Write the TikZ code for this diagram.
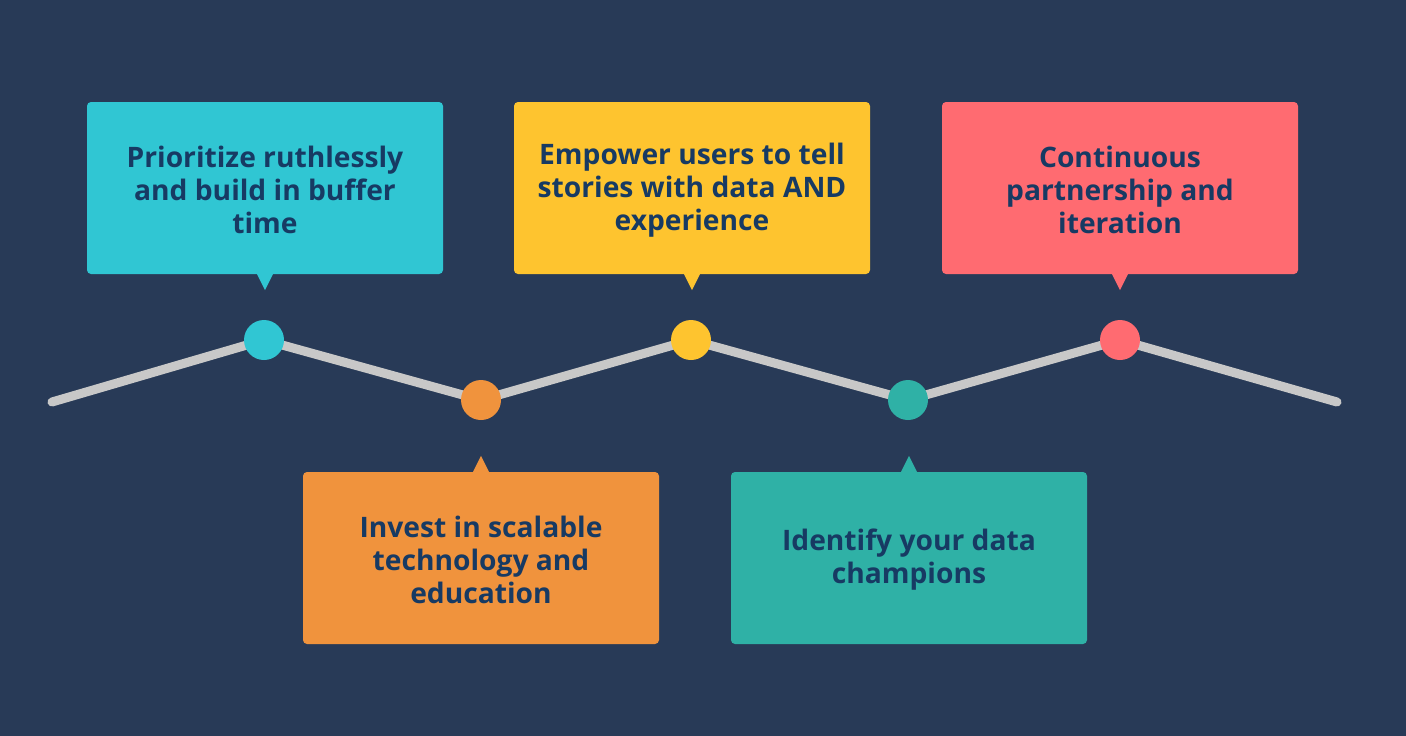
\documentclass[tikz,border=0pt]{standalone}
\usepackage{fontspec}
\setmainfont{Open Sans}
\definecolor{bg}{HTML}{283A57}
\definecolor{ln}{HTML}{C8C8C8}
\definecolor{cc}{HTML}{30C6D3}
\definecolor{cy}{HTML}{FEC42F}
\definecolor{cr}{HTML}{FF6B71}
\definecolor{co}{HTML}{F0933D}
\definecolor{ct}{HTML}{2FB1A6}
\definecolor{tx}{HTML}{173A63}
\begin{document}
\begin{tikzpicture}[x=1pt,y=-1pt,
 box/.style={rounded corners=4pt,minimum width=356pt,minimum height=172pt,inner sep=0pt},
 lbl/.style={align=center,text=tx,font=\fontsize{28.2}{33}\selectfont\bfseries},
 dot/.style={circle,minimum size=40pt,inner sep=0pt}]
\fill[bg] (0,0) rectangle (1406,736);
\coordinate (p0) at (52,402); \coordinate (p6) at (1337,402);
\node[dot] (d1) at (264,340) {};
\node[dot] (d2) at (481,400) {};
\node[dot] (d3) at (691,340) {};
\node[dot] (d4) at (908,400) {};
\node[dot] (d5) at (1120,340) {};
\draw[ln,line width=9pt,line cap=round,line join=round] (p0)--(d1.center)--(d2.center)--(d3.center)--(d4.center)--(d5.center)--(p6);
\foreach \n/\c in {d1/cc,d2/co,d3/cy,d4/ct,d5/cr} \fill[\c] (\n) circle (20);
\node[box,fill=cc] (b1) at (265,188) {};
\node[box,fill=cy] (b2) at (692,188) {};
\node[box,fill=cr] (b3) at (1120,188) {};
\node[box,fill=co] (b4) at (481,558) {};
\node[box,fill=ct] (b5) at (909,558) {};
\node[lbl] (t1) at (265,190) {Prioritize ruthlessly\\and build in buffer\\time};
\node[lbl] (t2) at (692,190) {Empower users to tell\\stories with data AND\\experience};
\node[lbl] (t3) at (1120,190) {Continuous\\partnership and\\iteration};
\node[lbl] (t4) at (481,560) {Invest in scalable\\technology and\\education};
\node[lbl] (t5) at (909,560) {Identify your data\\champions};
\foreach \b/\c in {b1/cc,b2/cy,b3/cr} \fill[\c] ([xshift=-8pt]\b.south) -- ([xshift=8pt]\b.south) -- ([yshift=-16pt]\b.south) -- cycle;
\foreach \b/\c in {b4/co,b5/ct} \fill[\c] ([xshift=-8pt]\b.north) -- ([xshift=8pt]\b.north) -- ([yshift=16pt]\b.north) -- cycle;
\end{tikzpicture}
\end{document}
